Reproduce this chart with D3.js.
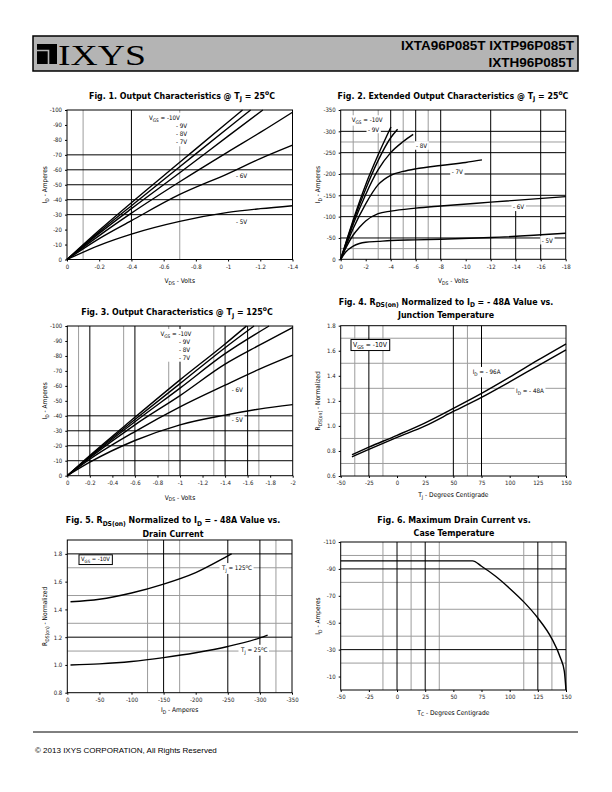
<!DOCTYPE html>
<html><head><meta charset="utf-8">
<script src="https://cdn.jsdelivr.net/npm/d3@7"></script>
<style>body{margin:0;background:#fff}svg{display:block}</style>
</head><body>
<svg id="page" width="612" height="792"></svg>
<script>
// ================= DATA =================
// Fig 1
const fig1XTicks = [0,-0.2,-0.4,-0.6,-0.8,-1,-1.2,-1.4];
const fig1YTicks = [0,-10,-20,-30,-40,-50,-60,-70,-80,-90,-100];
const fig1Labels = ["- 9V","- 8V","- 7V","- 6V","- 5V"];
const fig1Vds = [
  [0,-0.2,-0.4,-0.7,-1.0,-1.09],
  [0,-0.2,-0.4,-0.7,-1.0,-1.14],
  [0,-0.2,-0.4,-0.7,-1.0,-1.216],
  [0,-0.2,-0.4,-0.7,-1.0,-1.2,-1.4],
  [0,-0.2,-0.4,-0.7,-1.0,-1.2,-1.4],
  [0,-0.2,-0.4,-0.7,-1.0,-1.2,-1.4]];
const fig1Id = [
  [0,-19.5,-38,-65,-92,-100],
  [0,-18.5,-36,-62,-88,-100],
  [0,-17.5,-34,-58,-82.5,-100],
  [0,-16,-31,-52,-72,-85,-98.5],
  [0,-14,-26,-43.5,-57.5,-67.5,-76.5],
  [0,-9.5,-17,-25.5,-31.5,-34,-36]];
const fig1GridXBlack = [-0.4];
const fig1GridXGray = [-0.1,-0.7];
const fig1GridYBlack = [-30,-40,-50,-60,-70];

// Fig 2
const fig2XTicks = [0,-2,-4,-6,-8,-10,-12,-14,-16,-18];
const fig2YTicks = [0,-50,-100,-150,-200,-250,-300,-350];
const fig2Labels = ["- 9V","- 8V","- 7V","- 6V","- 5V"];
const fig2Vds = [
  [0,-0.5,-1,-2,-3,-4.02],
  [0,-0.5,-1,-2,-3,-4,-4.55],
  [0,-0.5,-1,-2,-3,-4,-5,-5.8],
  [0,-0.5,-1,-2,-3,-4,-5,-6,-8,-10,-11.3],
  [0,-0.4,-1,-1.5,-2,-3,-4,-6,-8,-12,-18],
  [0,-0.4,-1,-1.5,-2,-3,-4,-6,-8,-12,-18]];
const fig2Id = [
  [0,-47,-92,-175,-245,-310],
  [0,-45,-88,-165,-232,-285,-305],
  [0,-42,-82,-152,-210,-250,-276,-293],
  [0,-37,-72,-130,-175,-197,-206,-212,-220,-227,-233],
  [0,-26,-57,-75,-90,-107,-113,-120,-125,-134,-147],
  [0,-17,-31,-37,-40,-42,-44,-45.5,-47,-51,-61]];
const fig2GridXBlack = [-4,-6,-8,-12,-16];
const fig2GridXGray = [-1,-3,-5,-7];
const fig2GridXBlackLow = [-14];
const fig2GridXBlackLowTop = [-127];
const fig2GridYBlack = [-50,-100,-150,-200,-250,-300];
const fig2GridYGray = [-25,-125,-275];

// Fig 3
const fig3XTicks = [0,-0.2,-0.4,-0.6,-0.8,-1,-1.2,-1.4,-1.6,-1.8,-2];
const fig3YTicks = [0,-10,-20,-30,-40,-50,-60,-70,-80,-90,-100];
const fig3Labels = ["- 9V","- 8V","- 7V","- 6V","- 5V"];
const fig3Vds = [
  [0,-0.2,-0.6,-1.0,-1.4,-1.59],
  [0,-0.2,-0.6,-1.0,-1.4,-1.657],
  [0,-0.2,-0.6,-1.0,-1.4,-1.79],
  [0,-0.2,-0.6,-1.0,-1.4,-1.7,-2],
  [0,-0.2,-0.6,-1.0,-1.4,-1.7,-2],
  [0,-0.2,-0.6,-1.0,-1.4,-1.7,-2]];
const fig3Id = [
  [0,-13.5,-39,-64,-88,-100],
  [0,-13,-37.5,-61.5,-85.5,-100],
  [0,-12.5,-36,-58.5,-81.5,-100],
  [0,-12,-34,-53.5,-74.5,-87,-99],
  [0,-11,-29.5,-46,-60.5,-71,-80.5],
  [0,-9,-23.5,-34,-40.5,-44.5,-47.5]];
const fig3GridXBlack = [-0.2,-0.6,-1.0,-1.4,-1.6];
const fig3GridXGray = [-0.1,-0.5,-0.9,-1.3,-1.7];
const fig3GridYBlack = [-10,-20,-30,-40];

// Fig 4
const fig4XTicks = [-50,-25,0,25,50,75,100,125,150];
const fig4YTicks = [0.6,0.8,1.0,1.2,1.4,1.6,1.8];
const fig4Tj = [-40,-25,0,25,50,75,100,125,150];
const fig4R96 = [0.77,0.83,0.925,1.025,1.14,1.26,1.39,1.525,1.655];
const fig4R48 = [0.753,0.812,0.908,1.0,1.115,1.228,1.352,1.48,1.607];
const fig4GridXBlack = [-25,50,75];
const fig4GridXGray = [-37.5,-12.5,62.5];
const fig4GridYGray = [0.7,0.9,1.1,1.3,1.5,1.7];

// Fig 5
const fig5XTicks = [0,-50,-100,-150,-200,-250,-300,-350];
const fig5YTicks = [0.8,1.0,1.2,1.4,1.6,1.8];
const fig5Id125 = [-5,-50,-100,-150,-200,-250,-256];
const fig5R125 = [1.455,1.473,1.518,1.582,1.665,1.785,1.80];
const fig5Id25 = [-5,-50,-100,-150,-200,-250,-300,-312];
const fig5R25 = [1.0,1.008,1.025,1.053,1.088,1.133,1.195,1.215];
const fig5GridXBlack = [-150,-250,-300];
const fig5GridXGray = [-125,-175,-325];
const fig5GridYBlack = [1.2,1.8];
const fig5GridYGray = [1.1,1.3,1.5,1.7];

// Fig 6
const fig6XTicks = [-50,-25,0,25,50,75,100,125,150];
const fig6YTicks = [-10,-30,-50,-70,-90,-110];
const fig6Tc = [-50,25,67,75,87.5,100,112.5,125,137.5,145,148.5,150];
const fig6Id = [-96,-96,-96,-92,-84.5,-75.5,-65.5,-53.5,-38,-24,-14,0];
const fig6GridXBlack = [0,25,125];
const fig6GridXGray = [-12.5,12.5,37.5,112.5,137.5];
const fig6GridYBlack = [-30,-90];
const fig6GridYGray = [-20,-40,-60,-80,-100];

// ================= DRAWING =================
const FN = "'Liberation Sans Narrow','Arial Narrow','DejaVu Sans Condensed',sans-serif";
const FS = "'Liberation Sans',Arial,sans-serif";
const GRAY = "#9c9c9c";
const svg = d3.select("#page");

function rich(sel, parts, fs) {
  let shift = 0;
  parts.forEach(([t, k]) => {
    const target = k === "sub" ? fs * 0.3 : k === "sup" ? -fs * 0.4 : 0;
    const ts = sel.append("tspan").text(t);
    if (target - shift !== 0) ts.attr("dy", target - shift);
    if (k) ts.attr("font-size", fs * 0.76);
    shift = target;
  });
  return sel;
}

function addText(g, parts, x, y, fs, opts = {}) {
  const t = g.append("text").attr("x", x).attr("y", y)
    .attr("font-family", opts.family || FN).attr("font-size", fs)
    .attr("font-weight", opts.bold ? "bold" : "normal")
    .attr("text-anchor", opts.anchor || "start").attr("fill", opts.fill || "#000");
  if (opts.rotate) t.attr("transform", `rotate(-90,${x},${y})`);
  rich(t, parts, fs);
  return t;
}

function whiteBg(layer, node, pad) {
  const b = node.getBBox();
  layer.append("rect").attr("x", b.x - pad).attr("y", b.y - pad * 0.5)
    .attr("width", b.width + 2 * pad).attr("height", b.height + pad).attr("fill", "#fff");
}

function chart(o) {
  const g = svg.append("g");
  const x = d3.scaleLinear().domain(o.xDomain).range([o.L, o.R]);
  const y = d3.scaleLinear().domain(o.yDomain).range([o.B, o.T]);
  const grid = g.append("g");
  const vl = (v, c, y0, y1) => grid.append("line").attr("x1", x(v)).attr("x2", x(v))
    .attr("y1", y0 === undefined ? o.B : y(y0)).attr("y2", y1 === undefined ? o.T : y(y1))
    .attr("stroke", c).attr("stroke-width", 1);
  const hl = (v, c) => grid.append("line").attr("x1", o.L).attr("x2", o.R)
    .attr("y1", y(v)).attr("y2", y(v)).attr("stroke", c).attr("stroke-width", 1);
  (o.gxGray || []).forEach(v => vl(v, GRAY));
  (o.gyGray || []).forEach(v => hl(v, GRAY));
  (o.gxBlack || []).forEach(v => vl(v, "#000"));
  (o.gyBlack || []).forEach(v => hl(v, "#000"));
  (o.gxBlackLow || []).forEach((v, i) => vl(v, "#000", o.yDomain[0], o.gxBlackLowTop[i]));

  const bgLayer = g.append("g");
  const curveLayer = g.append("g");
  const textLayer = g.append("g");

  const line = d3.line().x(d => x(d[0])).y(d => y(d[1])).curve(d3.curveMonotoneX);
  o.series.forEach(s => curveLayer.append("path").attr("d", line(s))
    .attr("fill", "none").attr("stroke", "#000").attr("stroke-width", 1.4));

  g.append("rect").attr("x", o.L).attr("y", o.T).attr("width", o.R - o.L).attr("height", o.B - o.T)
    .attr("fill", "none").attr("stroke", "#000").attr("stroke-width", 1);

  const fmtX = o.xFmt || (d => String(d));
  const fmtY = o.yFmt || (d => String(d));
  const ax = g.append("g").attr("transform", `translate(0,${o.B})`)
    .call(d3.axisBottom(x).tickValues(o.xTicks).tickSize(2).tickPadding(3).tickFormat(fmtX));
  const ay = g.append("g").attr("transform", `translate(${o.L},0)`)
    .call(d3.axisLeft(y).tickValues(o.yTicks).tickSize(2).tickPadding(3).tickFormat(fmtY));
  [ax, ay].forEach(a => {
    a.select(".domain").remove();
    a.selectAll("text").attr("font-family", FN).attr("font-size", 6).attr("fill", "#222");
    a.selectAll("line").attr("stroke", "#000");
  });

  o.title.forEach((parts, i) => addText(g, parts, o.titleX, o.titleY[i], 8.8, { bold: true, anchor: "middle" }));
  addText(g, o.xTitle, (o.L + o.R) / 2, o.xTitleY, 6.6, { anchor: "middle" });
  addText(g, o.yTitle, o.yTitleX, (o.T + o.B) / 2, 6.6, { anchor: "middle", rotate: true });

  (o.labels || []).forEach(lb => {
    const t = addText(textLayer, lb.parts, lb.x, lb.y, lb.fs || 6.2);
    if (lb.bg) whiteBg(bgLayer, t.node(), 1.5);
  });
  if (o.block) {
    const bg = textLayer.append("g");
    o.block.forEach(lb => addText(bg, lb.parts, lb.x, lb.y, 6.2));
    whiteBg(bgLayer, bg.node(), 2);
  }
  if (o.box) {
    const bx = textLayer.append("g");
    const t = addText(bx, o.box.parts, o.box.x, o.box.y, o.box.fs);
    const b = t.node().getBBox();
    bx.insert("rect", "text").attr("x", b.x - 2).attr("y", b.y - 1).attr("width", b.width + 4)
      .attr("height", b.height + 2).attr("fill", "#fff").attr("stroke", "#000").attr("stroke-width", 1);
  }
  return { x, y };
}

const zip = (xs, ys) => xs.map((v, i) => [v, ys[i]]);
const VGS = [["V", ""], ["GS", "sub"], [" = -10V", ""]];
const IDA = [["I", ""], ["D", "sub"], [" - Amperes", ""]];
const VDS = [["V", ""], ["DS", "sub"], [" - Volts", ""]];
const RDS = [["R", ""], ["DS(on)", "sub"], [" - Normalized", ""]];

// ---- header ----
svg.append("rect").attr("x", 33).attr("y", 36).attr("width", 545).attr("height", 35)
  .attr("fill", "#b4b4b4").attr("stroke", "#000").attr("stroke-width", 1.5);
svg.append("rect").attr("x", 37).attr("y", 44).attr("width", 20).attr("height", 20).attr("fill", "#000");
svg.append("path").attr("d", "M37,50.5 H48.5 V64").attr("fill", "none").attr("stroke", "#b4b4b4").attr("stroke-width", 1.6);
svg.append("text").attr("x", 58).attr("y", 64.5).attr("font-family", "'Liberation Serif','Times New Roman',serif")
  .attr("font-size", 30).attr("textLength", 88).attr("lengthAdjust", "spacingAndGlyphs").text("IXYS");
svg.append("text").attr("x", 574).attr("y", 49.5).attr("text-anchor", "end").attr("font-family", FS)
  .attr("font-weight", "bold").attr("font-size", 13.5).text("IXTA96P085T IXTP96P085T");
svg.append("text").attr("x", 574).attr("y", 67).attr("text-anchor", "end").attr("font-family", FS)
  .attr("font-weight", "bold").attr("font-size", 13.5).text("IXTH96P085T");

// ---- footer ----
svg.append("line").attr("x1", 33).attr("x2", 578).attr("y1", 732).attr("y2", 732).attr("stroke", "#000").attr("stroke-width", 1);
svg.append("text").attr("x", 35).attr("y", 753).attr("font-family", FS).attr("font-size", 8)
  .text("© 2013 IXYS CORPORATION,  All Rights Reserved");

// ---- Fig 1 ----
chart({
  L: 67, R: 292.5, T: 110, B: 259.5, xDomain: [0, -1.4], yDomain: [0, -100],
  xTicks: fig1XTicks, yTicks: fig1YTicks,
  gxBlack: fig1GridXBlack, gxGray: fig1GridXGray, gyBlack: fig1GridYBlack,
  series: fig1Vds.map((xs, i) => zip(xs, fig1Id[i])),
  title: [[["Fig. 1. Output Characteristics @ T", ""], ["J", "sub"], [" = 25", ""], ["o", "sup"], ["C", ""]]],
  titleX: 182, titleY: [98.5],
  xTitle: VDS, xTitleY: 283, yTitle: IDA, yTitleX: 47,
  block: [
    { parts: VGS, x: 149, y: 119.7 },
    { parts: [[fig1Labels[0], ""]], x: 176, y: 128.3 },
    { parts: [[fig1Labels[1], ""]], x: 176, y: 136.3 },
    { parts: [[fig1Labels[2], ""]], x: 176, y: 144.3 }],
  labels: [
    { parts: [[fig1Labels[3], ""]], x: 236, y: 177.7, bg: true },
    { parts: [[fig1Labels[4], ""]], x: 236, y: 224.3, bg: true }]
});

// ---- Fig 2 ----
chart({
  L: 340.7, R: 565.7, T: 110, B: 259.3, xDomain: [0, -18], yDomain: [0, -350],
  xTicks: fig2XTicks, yTicks: fig2YTicks,
  gxBlack: fig2GridXBlack, gxGray: fig2GridXGray, gyBlack: fig2GridYBlack, gyGray: fig2GridYGray,
  gxBlackLow: fig2GridXBlackLow, gxBlackLowTop: fig2GridXBlackLowTop,
  series: fig2Vds.map((xs, i) => zip(xs, fig2Id[i])),
  title: [[["Fig. 2. Extended Output Characteristics @ T", ""], ["J", "sub"], [" = 25", ""], ["o", "sup"], ["C", ""]]],
  titleX: 453, titleY: [98.5],
  xTitle: VDS, xTitleY: 283, yTitle: IDA, yTitleX: 320,
  labels: [
    { parts: VGS, x: 351.7, y: 122, bg: true },
    { parts: [[fig2Labels[0], ""]], x: 368, y: 131.5, bg: true },
    { parts: [[fig2Labels[1], ""]], x: 416, y: 148, bg: true },
    { parts: [[fig2Labels[2], ""]], x: 451.7, y: 173.7, bg: true },
    { parts: [[fig2Labels[3], ""]], x: 513, y: 209.3, bg: true },
    { parts: [[fig2Labels[4], ""]], x: 541.7, y: 242.7, bg: true }]
});

// ---- Fig 3 ----
chart({
  L: 67.3, R: 292.7, T: 326, B: 475.7, xDomain: [0, -2], yDomain: [0, -100],
  xTicks: fig3XTicks, yTicks: fig3YTicks,
  gxBlack: fig3GridXBlack, gxGray: fig3GridXGray, gyBlack: fig3GridYBlack,
  series: fig3Vds.map((xs, i) => zip(xs, fig3Id[i])),
  title: [[["Fig. 3. Output Characteristics @ T", ""], ["J", "sub"], [" = 125", ""], ["o", "sup"], ["C", ""]]],
  titleX: 177, titleY: [315],
  xTitle: VDS, xTitleY: 499.5, yTitle: IDA, yTitleX: 47,
  block: [
    { parts: VGS, x: 160.5, y: 336 },
    { parts: [[fig3Labels[0], ""]], x: 179, y: 344.3 },
    { parts: [[fig3Labels[1], ""]], x: 179, y: 352 },
    { parts: [[fig3Labels[2], ""]], x: 179, y: 359.7 }],
  labels: [
    { parts: [[fig3Labels[3], ""]], x: 231.7, y: 391.5, bg: true },
    { parts: [[fig3Labels[4], ""]], x: 231.7, y: 422, bg: true }]
});

// ---- Fig 4 ----
chart({
  L: 340.7, R: 566, T: 325.7, B: 476, xDomain: [-50, 150], yDomain: [0.6, 1.8],
  xTicks: fig4XTicks, yTicks: fig4YTicks, yFmt: d => d.toFixed(1),
  gxBlack: fig4GridXBlack, gxGray: fig4GridXGray, gyGray: fig4GridYGray,
  series: [zip(fig4Tj, fig4R96), zip(fig4Tj, fig4R48)],
  title: [[["Fig. 4. R", ""], ["DS(on)", "sub"], [" Normalized to I", ""], ["D", "sub"], [" = - 48A Value vs.", ""]],
          [["Junction Temperature", ""]]],
  titleX: 446, titleY: [304.5, 318],
  xTitle: [["T", ""], ["J", "sub"], [" - Degrees Centigrade", ""]], xTitleY: 497, yTitle: RDS, yTitleX: 320,
  box: { parts: VGS, x: 353, y: 346.5, fs: 6.8 },
  labels: [
    { parts: [["I", ""], ["D", "sub"], [" = - 96A", ""]], x: 472.7, y: 373.7, bg: true },
    { parts: [["I", ""], ["D", "sub"], [" = - 48A", ""]], x: 516, y: 392.7, bg: true }]
});

// ---- Fig 5 ----
chart({
  L: 67.3, R: 292, T: 540, B: 692.7, xDomain: [0, -350], yDomain: [0.8, 1.9],
  xTicks: fig5XTicks, yTicks: fig5YTicks, yFmt: d => d.toFixed(1),
  gxBlack: fig5GridXBlack, gxGray: fig5GridXGray, gyBlack: fig5GridYBlack, gyGray: fig5GridYGray,
  series: [zip(fig5Id125, fig5R125), zip(fig5Id25, fig5R25)],
  title: [[["Fig. 5. R", ""], ["DS(on)", "sub"], [" Normalized to I", ""], ["D", "sub"], [" = - 48A Value vs.", ""]],
          [["Drain Current", ""]]],
  titleX: 173, titleY: [523, 536.5],
  xTitle: IDA, xTitleY: 712, yTitle: RDS, yTitleX: 47,
  box: { parts: VGS, x: 81, y: 560.8, fs: 5.8 },
  labels: [
    { parts: [["T", ""], ["J", "sub"], [" = 125", ""], ["o", "sup"], ["C", ""]], x: 222, y: 570.3, bg: true },
    { parts: [["T", ""], ["J", "sub"], [" = 25", ""], ["o", "sup"], ["C", ""]], x: 241, y: 652, bg: true }]
});

// ---- Fig 6 ----
chart({
  L: 340.7, R: 566, T: 542, B: 690, xDomain: [-50, 150], yDomain: [0, -110],
  xTicks: fig6XTicks, yTicks: fig6YTicks,
  gxBlack: fig6GridXBlack, gxGray: fig6GridXGray, gyBlack: fig6GridYBlack, gyGray: fig6GridYGray,
  series: [zip(fig6Tc, fig6Id)],
  title: [[["Fig. 6. Maximum Drain Current vs.", ""]], [["Case Temperature", ""]]],
  titleX: 454, titleY: [522.5, 536],
  xTitle: [["T", ""], ["C", "sub"], [" - Degrees Centigrade", ""]], xTitleY: 714.5, yTitle: IDA, yTitleX: 320
});
</script>
</body></html>
